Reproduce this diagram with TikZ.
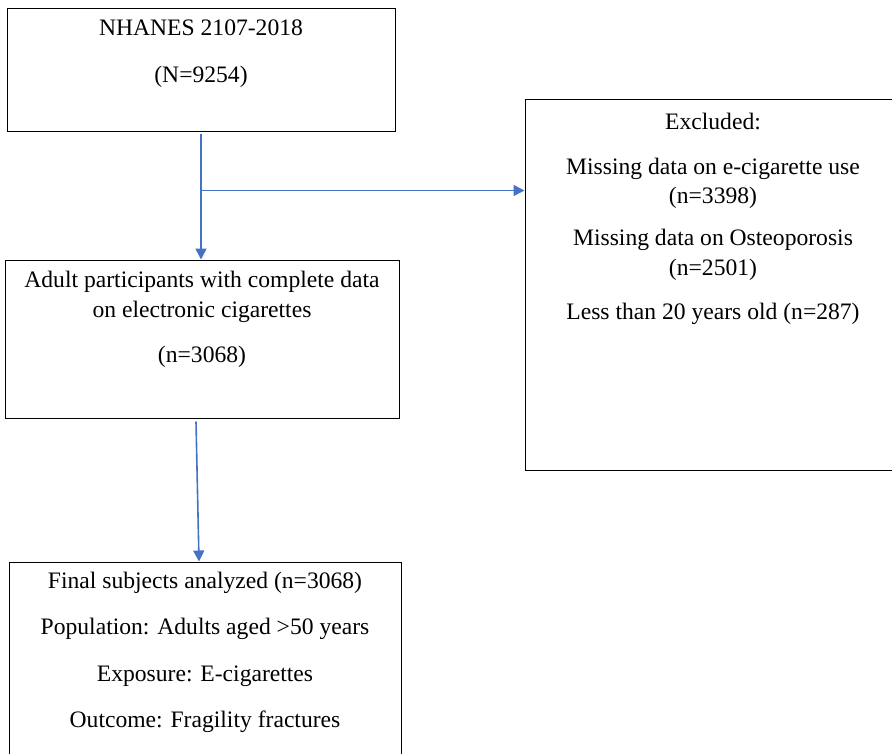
\documentclass[tikz,border=0pt]{standalone}
\usepackage{fontspec}
\setmainfont{Liberation Serif}
\usetikzlibrary{arrows.meta,calc}
\definecolor{flowblue}{HTML}{4472C4}

\begin{document}
\begin{tikzpicture}[x=1pt, y=-1pt,
    box/.style={draw=black, line width=1pt, rectangle, inner sep=0pt},
    txt/.style={align=center, inner sep=0pt, font=\fontsize{23.6}{29.5}\selectfont},
    flow/.style={draw=flowblue, line width=1.6pt, -{Triangle[length=11pt, width=11pt]}}]
    % Define the canvas
    \path[use as bounding box] (0,0) rectangle (892,753);
    \clip (0,0) rectangle (892,753);

    % Boxes
    \node[box, minimum width=388pt, minimum height=123pt] (nhanes) at (201,69.5) {};
    \node[box, minimum width=394pt, minimum height=158pt] (adult) at (202,339) {};
    \node[box, minimum width=375pt, minimum height=371pt] (excl) at (712.5,284.5) {};
    \node[box, minimum width=392pt, minimum height=208pt] (final) at (205,666) {};

    % Box texts
    \node[txt] (nhanes-txt) at (201,53.5) {NHANES 2107-2018\\[17.5pt](N=9254)};
    \node[txt] (adult-txt) at (202,319.5)
        {Adult participants with complete data\\on electronic cigarettes\\[15.5pt](n=3068)};
    \node[txt] (excl-txt) at (713,219)
        {Excluded:\\[15pt]Missing data on e-cigarette use\\(n=3398)\\[12.5pt]%
         Missing data on Osteoporosis\\(n=2501)\\[15pt]Less than 20 years old (n=287)};
    \node[txt] (final-txt) at (205,652.5)
        {Final subjects analyzed (n=3068)\\[17pt]Population: Adults aged >50 years\\[17pt]%
         Exposure: E-cigarettes\\[17pt]Outcome: Fragility fractures};

    % Arrows
    \coordinate (split) at ($(nhanes.south)+(0,59)$);
    \draw[flow] ([yshift=-2pt]nhanes.south) -- (nhanes.south |- adult.north);
    \draw[flow] (split) -- (split -| excl.west);
    \draw[flow] ([xshift=-6pt,yshift=-3pt]adult.south) -- ([xshift=-6pt]final.north);

\end{tikzpicture}
\end{document}
